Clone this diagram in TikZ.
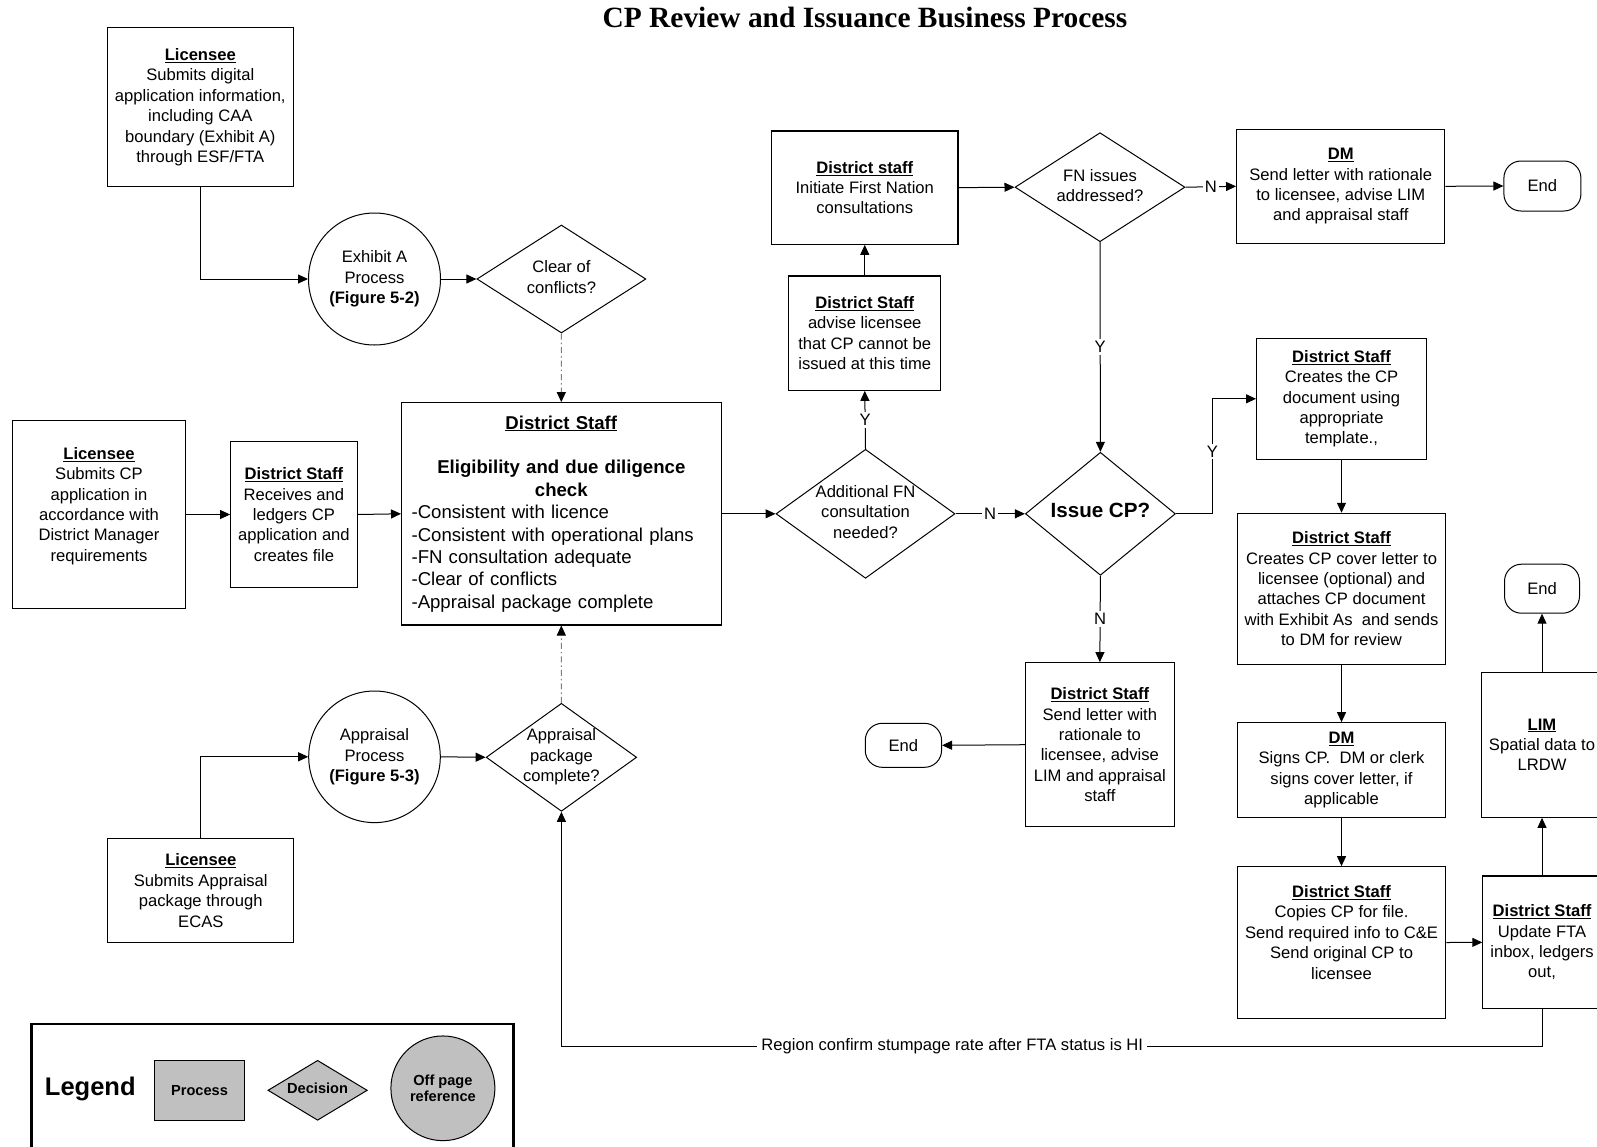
\documentclass[tikz,border=0pt]{standalone}
\usepackage{fontspec}
\setmainfont{Liberation Sans}
\newfontfamily\titlefont{Liberation Serif}
\usetikzlibrary{shapes.geometric,arrows.meta,calc}

% heading of a box, centred line across the check box, zero-width centred text block
\newcommand{\hd}[1]{\underline{\textbf{#1}}}
\newcommand{\ctr}[1]{\makebox[299.5pt][c]{#1}}
\newcommand{\ztext}[1]{\makebox[0pt]{\begin{tabular}{@{}c@{}}#1\end{tabular}}}

\definecolor{legendgray}{RGB}{192,192,192}

\tikzset{
  every node/.style={font=\fontsize{16.6}{20.4}\selectfont},
  sz/.style 2 args={minimum width=#1, minimum height=#2},
  proc/.style={draw, line width=1.1pt, rectangle, inner sep=0pt, align=center},
  dec/.style={draw, line width=1pt, diamond, inner sep=0pt},
  offpage/.style={draw, line width=1pt, circle, inner sep=0pt, align=center},
  term/.style={draw, line width=1pt, rectangle, rounded corners=17pt, inner sep=0pt},
  arr/.style={line width=1pt, -{Triangle[length=10pt,width=9pt]}},
  dsh/.style={line width=1pt, draw=gray, dash pattern=on 6pt off 3pt on 1.5pt off 3pt,
              -{Triangle[length=10pt,width=9pt,color=black]}},
  lbl/.style={fill=white, inner sep=2pt},
  legtext/.style={font=\fontsize{14.6}{16.7}\selectfont\bfseries, align=center}
}

\begin{document}
\begin{tikzpicture}[x=1pt, y=-1pt]
\clip (0,0) rectangle (1597,1146);
\fill[white] (0,0) rectangle (1597,1146);

% title
\node[font={\fontsize{29.4}{34}\titlefont\bfseries}] (title) at (865,17.5)
  {CP Review and Issuance Business Process};

% ---- left column: inputs ----
\node[proc, sz={186.4}{159}] (lic1) at (200.3,107.2)
  {\hd{Licensee}\\Submits digital\\application information,\\including CAA\\boundary (Exhibit A)\\through ESF/FTA};
\node[offpage, minimum size=132] (exA) at (374.5,279)
  {Exhibit A\\Process\\\textbf{(Figure 5-2)}};
\node[dec, sz={169}{108}] (clr) at (561.4,279)
  {\ztext{Clear of\\conflicts?}};

\node[proc, sz={173.5}{188.6}] (licm) at (99,514.5)
  {\hd{Licensee}\\Submits CP\\application in\\accordance with\\District Manager\\requirements\\\mbox{}};
\node[proc, sz={126.5}{145.6}] (rec) at (293.9,514.5)
  {\hd{District Staff}\\Receives and\\ledgers CP\\application and\\creates file};
\node[proc, sz={319.5}{222.3}, text width=299.5pt, align=left,
      font=\fontsize{18.6}{22.4}\selectfont] (chk) at (561.3,513.8)
  {\ctr{\hd{District Staff}}\\[22.4pt]
   \ctr{\textbf{Eligibility and due diligence}}\\
   \ctr{\textbf{check}}\\
   -Consistent with licence\\
   -Consistent with operational plans\\
   -FN consultation adequate\\
   -Clear of conflicts\\
   -Appraisal package complete};

\node[offpage, minimum size=131.6] (apc) at (374.5,756.8)
  {Appraisal\\Process\\\textbf{(Figure 5-3)}};
\node[dec, sz={150.5}{108}] (apd) at (561.4,757.3)
  {\ztext{Appraisal\\package\\complete?}};
\node[proc, sz={186.2}{104.4}] (lic3) at (200.8,890.5)
  {\hd{Licensee}\\Submits Appraisal\\package through\\ECAS};

% ---- First Nation branch ----
\node[dec, sz={179}{129}] (addfn) at (865.5,513.8)
  {\ztext{Additional FN\\consultation\\needed?}};
\node[proc, sz={152.1}{114.3}] (adv) at (864.75,333.15)
  {\hd{District Staff}\\advise licensee\\that CP cannot be\\issued at this time};
\node[proc, sz={186.5}{113.3}] (init) at (864.75,187.65)
  {\hd{District staff}\\Initiate First Nation\\consultations};
\node[dec, sz={170}{109}] (fn) at (1100,187.2)
  {\ztext{FN issues\\addressed?}};
\node[proc, sz={208.3}{114}] (dm1) at (1340.75,186.3)
  {\hd{DM}\\Send letter with rationale\\to licensee, advise LIM\\and appraisal staff};
\node[term, sz={77}{50}] (endT) at (1542.4,186) {End};

% ---- issuance ----
\node[dec, sz={150}{123}] (iss) at (1100.4,513.8)
  {\ztext{\fontsize{20.6}{24}\selectfont\bfseries Issue CP?}};
\node[proc, sz={148.9}{164}] (nbox) at (1099.85,744.7)
  {\hd{District Staff}\\Send letter with\\rationale to\\licensee, advise\\LIM and appraisal\\staff};
\node[term, sz={76.3}{44}] (endL) at (903.4,745.3) {End};

\node[proc, sz={169.9}{121}] (cre) at (1341.5,398.8)
  {\hd{District Staff}\\Creates the CP\\document using\\appropriate\\template.,};
\node[proc, sz={208.2}{151}] (cov) at (1341.5,588.8)
  {\hd{District Staff}\\Creates CP cover letter to\\licensee (optional) and\\attaches CP document\\with Exhibit As~ and sends\\to DM for review};
\node[proc, sz={208.2}{94.6}] (dms) at (1341.5,770)
  {\hd{DM}\\Signs CP.~ DM or clerk\\signs cover letter, if\\applicable};
\node[proc, sz={208.4}{151.6}] (cop) at (1341.5,942.5)
  {\hd{District Staff}\\Copies CP for file.\\Send required info to C\&E\\Send original CP to\\licensee\\\mbox{}};

\node[proc, sz={118.4}{132.7}] (upd) at (1542,942.35)
  {\hd{District Staff}\\Update FTA\\inbox, ledgers\\out,};
\node[proc, sz={121.4}{145}] (lim) at (1542,744.8)
  {\hd{LIM}\\Spatial data to\\LRDW};
\node[term, sz={75}{49}] (endR) at (1542,588.7) {End};

% ---- connectors ----
\draw[arr] (lic1.south) |- (exA.west);
\draw[arr] (exA.east) -- (clr.west);
\draw[dsh] (clr.south) -- (chk.north);
\draw[arr] (licm.east) -- (rec.west);
\draw[arr] (rec.east) -- (chk.west);
\draw[arr] (lic3.north) |- (apc.west);
\draw[arr] (apc.east) -- (apd.west);
\draw[dsh] (apd.north) -- (chk.south);
\draw[arr] (chk.east) -- (addfn.west);

\draw[arr] (addfn.north) -- node[lbl] {Y} (adv.south);
\draw[arr] (adv.north) -- (init.south);
\draw[arr] (init.east) -- (fn.west);
\draw[arr] (fn.east) -- node[lbl] {N} (dm1.west);
\draw[arr] (dm1.east) -- (endT.west);
\draw[arr] (fn.south) -- node[lbl] {Y} (iss.north);
\draw[arr] (addfn.east) -- node[lbl] {N} (iss.west);
\draw[arr] (iss.east) -- ++(36.6,0) |- node[lbl, pos=0.27] {Y} (cre.west);
\draw[arr] (iss.south) -- node[lbl] {N} (nbox.north);
\draw[arr] (nbox.west) -- (endL.east);

\draw[arr] (cre.south) -- (cov.north);
\draw[arr] (cov.south) -- (dms.north);
\draw[arr] (dms.south) -- (cop.north);
\draw[arr] (cop.east) -- (upd.west);
\draw[arr] (upd.north) -- (lim.south);
\draw[arr] (lim.north) -- (endR.south);

% stumpage feedback loop
\draw[arr] (upd.south) -- ++(0,37.3) coordinate (fbcorner) -| (apd.south);
\node[lbl, inner xsep=4pt] (fblabel) at (952.3,1046)
  {Region confirm stumpage rate after FTA status is HI};

% ---- legend ----
\node[draw, line width=2.7pt, rectangle, inner sep=0pt, sz={482.2}{142}] (legbox) at (272.7,1095) {};
\node[font=\fontsize{25.5}{30}\selectfont\bfseries] (legtitle) at (90.3,1089.3) {Legend};
\node[draw, line width=1pt, fill=legendgray, rectangle, inner sep=0pt, sz={89.8}{60}, legtext] (legproc) at (199.5,1090.3) {Process};
\node[draw, line width=1pt, fill=legendgray, diamond, inner sep=0pt, sz={99.4}{60}, legtext] (legdec) at (317.6,1090.3) {\ztext{Decision}};
\node[draw, line width=1pt, fill=legendgray, ellipse, inner sep=0pt, sz={104}{104.7}, legtext] (legoff) at (442.9,1088.3) {Off page\\reference};
\end{tikzpicture}
\end{document}
